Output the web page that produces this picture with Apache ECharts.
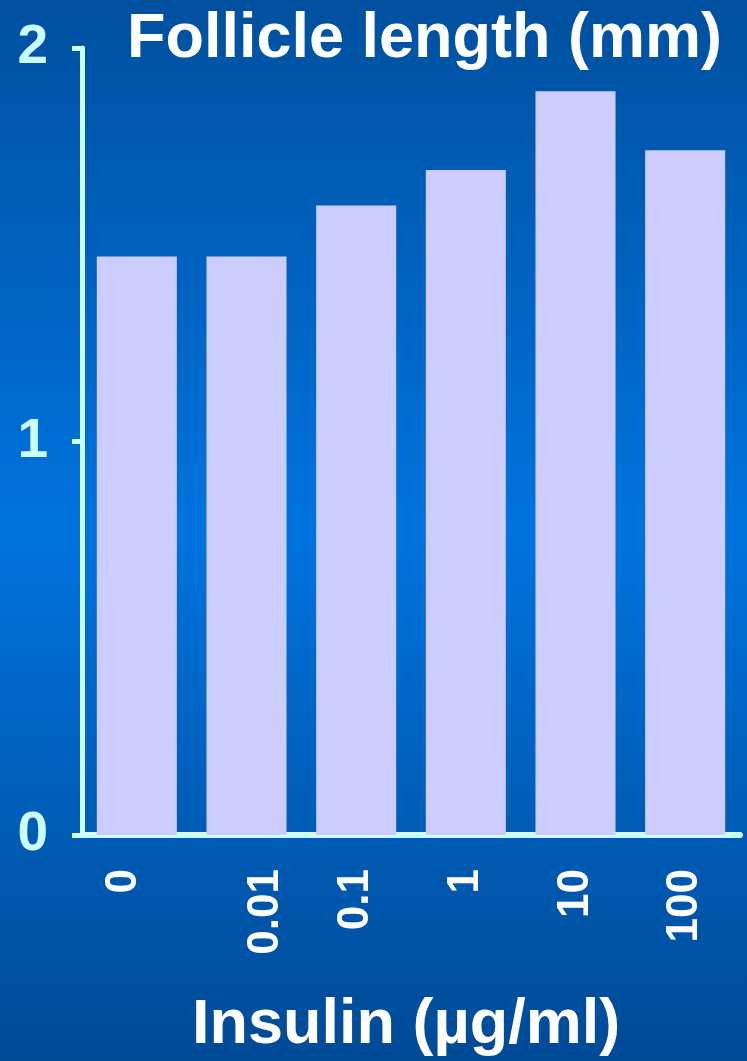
<!DOCTYPE html>
<html>
<head>
<meta charset="utf-8">
<script src="https://cdn.jsdelivr.net/npm/echarts@6/dist/echarts.min.js"></script>
<style>
html,body{margin:0;padding:0;background:#0060c0;}
#chart{width:747px;height:1061px;}
</style>
</head>
<body>
<div id="chart"></div>
<script>
const categories = ['0', '0.01', '0.1', '1', '10', '100'];
const follicleLength = [1.47, 1.47, 1.60, 1.69, 1.89, 1.74];
const yTicks = [0, 1, 2];
const titleText = 'Follicle length (mm)';
const xAxisTitle = 'Insulin (\u00b5g/ml)';

const labelFont = {
  color: '#ffffff',
  fontFamily: 'Liberation Sans, Arial, sans-serif',
  fontWeight: 'bold',
  fontSize: 44
};
// rich styles: small per-label nudges seen in the reference
const rich = {
  left: Object.assign({padding: [0, 0, 26, 0]}, labelFont),
  right: Object.assign({padding: [38, 0, 0, 0]}, labelFont),
  mid: Object.assign({}, labelFont)
};
const labelStyleKey = {'0': 'left', '0.01': 'right'};

const chart = echarts.init(document.getElementById('chart'), null, {renderer: 'canvas'});
const option = {
  animation: false,
  backgroundColor: {
    type: 'linear', x: 0, y: 0, x2: 0, y2: 1,
    colorStops: [
      {offset: 0, color: '#00509f'},
      {offset: 0.5, color: '#0073de'},
      {offset: 1, color: '#004a96'}
    ]
  },
  title: [
    {
      text: titleText,
      left: 122, top: 3,
      textStyle: {color: '#ffffff', fontFamily: 'Liberation Sans, Arial, sans-serif', fontWeight: 'bold', fontSize: 63}
    },
    {
      text: xAxisTitle,
      left: 187, top: 989,
      textStyle: {color: '#ffffff', fontFamily: 'Liberation Sans, Arial, sans-serif', fontWeight: 'bold', fontSize: 63}
    }
  ],
  grid: {left: 82, right: 7, top: 48, bottom: 226, containLabel: false},
  xAxis: {
    type: 'category',
    data: categories,
    axisLine: {show: true, lineStyle: {color: '#ccffff', width: 6}},
    axisTick: {show: false},
    axisLabel: Object.assign({
      rotate: 90,
      margin: 34,
      formatter: function (v) {
        return '{' + (labelStyleKey[v] || 'mid') + '|' + v + '}';
      },
      rich: rich
    }, labelFont)
  },
  yAxis: {
    type: 'value',
    min: yTicks[0], max: yTicks[yTicks.length - 1], interval: 1,
    axisLine: {show: true, lineStyle: {color: '#ccffff', width: 5}},
    axisTick: {show: true, length: 10, lineStyle: {color: '#ccffff', width: 5}},
    splitLine: {show: false},
    axisLabel: {
      margin: 34,
      color: '#ccffff',
      fontFamily: 'Liberation Sans, Arial, sans-serif',
      fontWeight: 'bold',
      fontSize: 55
    }
  },
  series: [{
    type: 'bar',
    data: follicleLength,
    barCategoryGap: '27%',
    itemStyle: {color: '#ccccff'},
    z: 1
  }]
};
chart.setOption(option);
</script>
</body>
</html>
